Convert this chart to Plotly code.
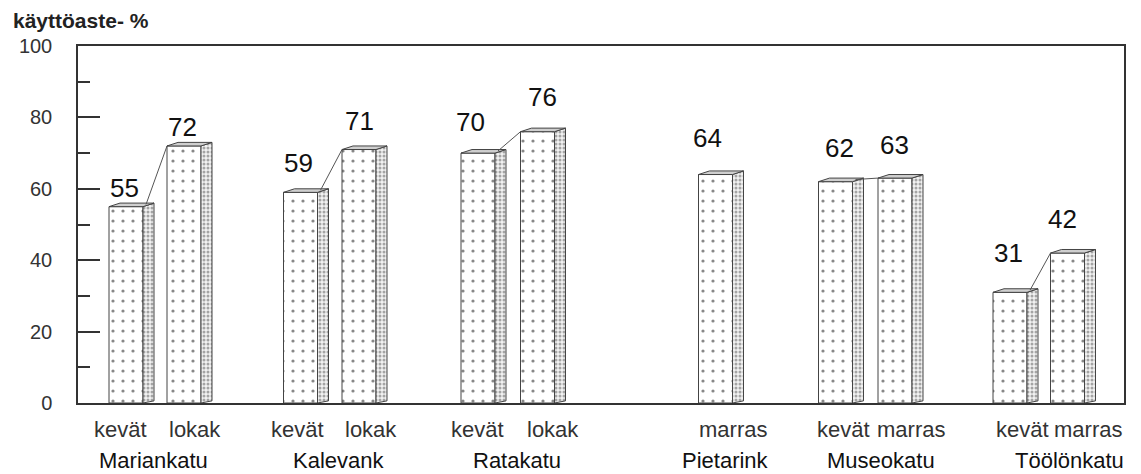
import plotly.graph_objects as go

# ---------------- data ----------------
groups = ["Mariankatu", "Kalevank", "Ratakatu", "Pietarink", "Museokatu", "Töölönkatu"]
bar_group = [0, 0, 1, 1, 2, 2, 3, 4, 4, 5, 5]
bar_labels = ["kevät", "lokak", "kevät", "lokak", "kevät", "lokak",
              "marras", "kevät", "marras", "kevät", "marras"]
values = [55, 72, 59, 71, 70, 76, 64, 62, 63, 31, 42]
y_ticks = [0, 20, 40, 60, 80, 100]
y_title = "käyttöaste- %"

# ---------------- layout helpers (positions / sizes) ----------------
bar_pos = [48, 106, 222.5, 281, 400, 459.5, 637.5, 757.5, 817, 932, 989.5]
sublabel_pos = [42, 116.5, 219.5, 293, 399.5, 474.5, 655, 765, 833, 944, 1010]
group_pos = [75, 260.5, 439, 647, 803, 991]
val_xshift = [-2, -2, -2.5, 0, -8, 4.5, -8.5, 3.5, -1, -2, -5.5]
val_yshift = [19, 19, 29, 29, 31, 35, 37, 34, 33, 39, 34]
BW = 34      # front face width (x units)
DX = 11      # side face depth (x units)
DY = 1.0     # side face rise (y units)
FONT = "Liberation Sans, Arial, sans-serif"

# page body has an 8px margin; compensate so the plot lands where intended
OFF = 8
W, H = 1141 - OFF, 474 - OFF
ML, MR, MT, MB = 78 - OFF, 17, 46 - OFF, 71
PW, PH = W - ML - MR, H - MT - MB

fig = go.Figure()

# front faces
fig.add_trace(go.Bar(
    x=bar_pos, y=values, width=BW, base=0,
    marker=dict(color="white",
                line=dict(color="#444", width=1),
                pattern=dict(shape=".", size=10, solidity=0.08,
                             fgcolor="#888", bgcolor="white", fillmode="replace")),
    hoverinfo="skip", showlegend=False,
))

# side faces and top faces as polygons
sx, sy, tx, ty = [], [], [], []
for c, v in zip(bar_pos, values):
    xr = c + BW / 2
    xl = c - BW / 2
    sx += [xr, xr + DX, xr + DX, xr, xr, None]
    sy += [v, v + DY, 0.6, 0, v, None]
    tx += [xl, xl + DX, xr + DX, xr, xl, None]
    ty += [v, v + DY, v + DY, v, v, None]

fig.add_trace(go.Scatter(
    x=sx, y=sy, mode="lines", fill="toself", fillcolor="#e0e0e0",
    fillpattern=dict(shape=".", size=4, solidity=0.45, fgcolor="#555", bgcolor="#f2f2f2"),
    line=dict(color="#444", width=1), hoverinfo="skip", showlegend=False,
))
fig.add_trace(go.Scatter(
    x=tx, y=ty, mode="lines", fill="toself", fillcolor="#cfcfcf",
    line=dict(color="#444", width=1), hoverinfo="skip", showlegend=False,
))

# connecting lines between bars of the same group
lx, ly = [], []
for i in range(len(values) - 1):
    if bar_group[i] == bar_group[i + 1]:
        lx += [bar_pos[i] + BW / 2 + 3, bar_pos[i + 1] - BW / 2, None]
        ly += [values[i] + 0.6, values[i + 1], None]
fig.add_trace(go.Scatter(x=lx, y=ly, mode="lines", line=dict(color="#555", width=1),
                         hoverinfo="skip", showlegend=False))

ann = []
# value labels
for c, v, xs, ys in zip(bar_pos, values, val_xshift, val_yshift):
    ann.append(dict(x=c, y=v, xref="x", yref="y", text=str(v), showarrow=False,
                    xshift=xs, yshift=ys, yanchor="middle",
                    font=dict(family=FONT, size=26, color="#111")))
# sub labels
for p, t in zip(sublabel_pos, bar_labels):
    ann.append(dict(x=p, y=0, xref="x", yref="paper", text=t, showarrow=False,
                    yshift=-26, yanchor="middle",
                    font=dict(family=FONT, size=22, color="#333")))
# group labels
for p, g in zip(group_pos, groups):
    ann.append(dict(x=p, y=0, xref="x", yref="paper", text=g, showarrow=False,
                    yshift=-57, yanchor="middle",
                    font=dict(family=FONT, size=22, color="#111")))
# y title (window pixel x=11, y=20)
ann.append(dict(x=(11 - 78) / PW, y=1 + (46 - 20) / PH, xref="paper", yref="paper",
                text=y_title, showarrow=False, xanchor="left", yanchor="middle",
                font=dict(family=FONT, size=21, color="#222", weight="bold")))

fig.update_layout(
    width=W, height=H,
    margin=dict(l=ML, r=MR, t=MT, b=MB),
    paper_bgcolor="white", plot_bgcolor="white",
    annotations=ann,
    showlegend=False,
    xaxis=dict(range=[0, 1046], showgrid=False, zeroline=False, showticklabels=False,
               ticks="", showline=True, mirror=True, linecolor="#333", linewidth=1.5,
               fixedrange=True),
    yaxis=dict(range=[0, 100], tickvals=y_ticks, ticktext=[str(t) for t in y_ticks],
               showgrid=False, zeroline=False, showline=True, mirror=True,
               linecolor="#333", linewidth=1.5, ticks="inside", ticklen=22,
               tickcolor="#333", tickwidth=1.5, ticklabelstandoff=20,
               minor=dict(dtick=10, ticks="inside", ticklen=12, tickcolor="#333", tickwidth=1.5),
               tickfont=dict(family=FONT, size=20, color="#333"), fixedrange=True),
)

fig.write_html("out.html")
